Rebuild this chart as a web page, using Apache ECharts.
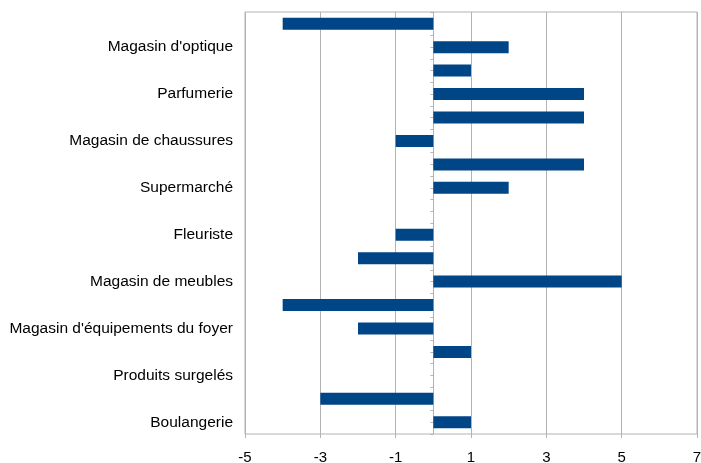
<!DOCTYPE html>
<html>
<head>
<meta charset="utf-8">
<script src="https://cdn.jsdelivr.net/npm/echarts@6/dist/echarts.min.js"></script>
<style>
  html, body { margin: 0; padding: 0; background: #fff; }
  #chart { width: 701px; height: 463px; }
</style>
</head>
<body>
<div id="chart"></div>
<script>
// categories from bottom to top (unlabelled rows are empty)
var categories = [
  "Boulangerie", "",
  "Produits surgelés", "",
  "Magasin d'équipements du foyer", "",
  "Magasin de meubles", "",
  "Fleuriste", "",
  "Supermarché", "",
  "Magasin de chaussures", "",
  "Parfumerie", "",
  "Magasin d'optique", ""
];
var values = [1, -3, 0, 1, -2, -4, 5, -2, -1, 0, 2, 4, -1, 4, 4, 1, 2, -4];

var xMin = -5;
var xMax = 7;
var xStep = 2;

var gridColor = "#b3b3b3";
var font = "'Liberation Sans', Arial, sans-serif";

var W = 701, H = 463;
var gLeft = 245, gRight = 4, gTop = 12, gBottom = 29;
// pixel position of the value 0, used to place the zero-line axis
var zeroX = gLeft + (0 - xMin) / (xMax - xMin) * (W - gLeft - gRight);

var chart = echarts.init(document.getElementById("chart"));
var option = {
  animation: false,
  grid: [
    {
      left: gLeft,
      right: gRight,
      top: gTop,
      bottom: gBottom,
      outerBoundsMode: "none",
      show: true,
      borderColor: gridColor,
      borderWidth: 1,
    },
    {
      left: zeroX,
      width: 1,
      top: gTop,
      bottom: gBottom,
      outerBoundsMode: "none",
    },
  ],
  xAxis: [
    {
      type: "value",
      gridIndex: 0,
      min: xMin,
      max: xMax,
      interval: xStep,
      axisLine: { onZero: false, lineStyle: { color: gridColor } },
      axisTick: { show: true, length: 4, lineStyle: { color: gridColor } },
      axisLabel: { color: "#000", fontSize: 15, fontFamily: font, margin: 16 },
      splitLine: { show: true, lineStyle: { color: gridColor } },
    },
    {
      type: "value",
      gridIndex: 1,
      min: 0,
      max: 1,
      show: false,
    },
  ],
  yAxis: [
    {
      type: "category",
      gridIndex: 0,
      data: categories,
      position: "left",
      axisLine: { show: false, onZero: false },
      axisTick: { show: false },
      axisLabel: {
        interval: 1,
        color: "#000",
        fontSize: 15.5,
        fontFamily: font,
        margin: 12,
      },
    },
    {
      // zero line with ticks between rows
      type: "category",
      gridIndex: 1,
      data: categories,
      position: "left",
      axisLine: { show: true, onZero: false, lineStyle: { color: gridColor } },
      axisTick: { show: true, interval: 0, length: 3, lineStyle: { color: gridColor } },
      axisLabel: { show: false },
    },
    {
      // ticks at row centres
      type: "category",
      gridIndex: 1,
      data: categories,
      position: "left",
      axisLine: { show: false, onZero: false },
      axisTick: { show: true, interval: 0, alignWithLabel: true, length: 3, lineStyle: { color: gridColor } },
      axisLabel: { show: false },
    },
  ],
  series: [
    {
      type: "bar",
      data: values,
      xAxisIndex: 0,
      yAxisIndex: 0,
      barWidth: 12,
      itemStyle: { color: "#004586" },
    },
  ],
};
chart.setOption(option);
</script>
</body>
</html>
